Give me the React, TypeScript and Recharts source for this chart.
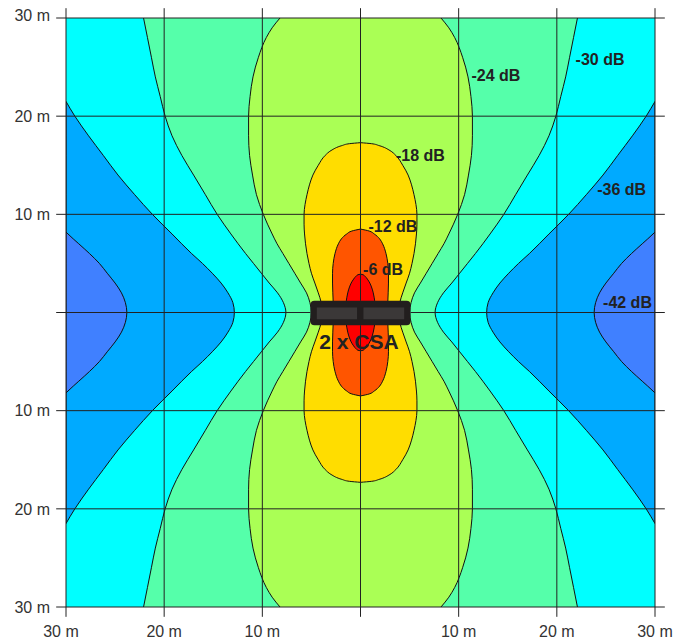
import React from "react";
import { ComposedChart, Area, XAxis, YAxis, ReferenceLine, ReferenceArea, ReferenceDot } from "recharts";

const FONT = "'Liberation Sans', Arial, sans-serif";

const gridTicks = [-30, -20, -10, 0, 10, 20, 30];

// [distance from speaker axis (m), half width of contour (m)] - upper half, lower half is the mirror
const contour30 = [[0, 7.6], [1, 7.85], [2, 8.45], [3, 9.3], [4, 10.1], [5, 10.9], [6, 11.7], [8, 13.2], [10, 14.6], [12, 15.8], [14, 17.0], [16, 18.2], [18, 19.2], [20, 19.9], [22, 20.4], [24, 20.9], [26, 21.3], [28, 21.7], [30, 22.1]];
const contour24 = [[0, 5.0], [1, 5.15], [2, 5.5], [3, 6.1], [4, 6.7], [5, 7.3], [6, 7.9], [7, 8.5], [8, 9.0], [10, 9.9], [12, 10.6], [14, 11.0], [16, 11.3], [18, 11.4], [20, 11.4], [22, 11.25], [24, 10.95], [26, 10.4], [28, 9.6], [29, 9.0], [30, 8.2]];
const contour18 = [[0, 3.9], [1, 4.0], [2, 4.3], [3, 4.65], [4, 5.0], [5, 5.25], [6, 5.45], [7, 5.6], [8, 5.7], [9, 5.75], [10, 5.75], [11, 5.65], [12, 5.45], [13, 5.2], [14, 4.85], [15, 4.3], [16, 3.6], [16.5, 3.0], [17, 1.9], [17.2, 1.1], [17.3, 0]];
const contour12 = [[0, 2.75], [1, 2.78], [2, 2.82], [3, 2.85], [4, 2.85], [5, 2.78], [6, 2.6], [7, 2.25], [7.5, 1.95], [8, 1.4], [8.3, 0.88], [8.5, 0]];
const contour6 = [[0, 1.45], [1, 1.45], [1.5, 1.4], [2, 1.3], [2.6, 1.12], [3, 0.95], [3.4, 0.7], [3.7, 0.45], [3.85, 0.25], [3.9, 0]];
// side lobes: inner edge distance from centre line (m)
const lobe36 = [[0, 12.85], [1, 13.0], [2, 13.5], [3, 14.2], [4, 15.1], [5, 16.1], [6, 17.2], [8, 19.2], [10, 21.2], [12, 23.0], [14, 24.7], [16, 26.2], [18, 27.7], [20, 29.1], [21.5, 30]];
const lobe42 = [[0, 23.8], [1, 23.95], [2, 24.35], [3, 25.0], [4, 25.8], [5, 26.6], [6, 27.6], [7, 28.7], [8, 29.8], [8.2, 30]];
const background = [[30, 30]];

const levelLabels = [
  { text: "-30 dB", x: 24.4, y: 25.8 },
  { text: "-24 dB", x: 13.8, y: 24.2 },
  { text: "-36 dB", x: 26.6, y: 12.5 },
  { text: "-18 dB", x: 6.1, y: 16.0 },
  { text: "-12 dB", x: 3.3, y: 8.8 },
  { text: "-6 dB", x: 2.3, y: 4.4 },
  { text: "-42 dB", x: 27.2, y: 1.0 },
];

// speaker box (m)
const speaker = { x1: -5.1, x2: 5.1, y1: -1.3, y2: 1.2 };

// mirror the upper half and turn half widths into [from, to] ranges
type Side = "both" | "left" | "right";
const toRows = (pts: number[][], side: Side) => {
  const full = [...pts.filter(([y]) => y > 0).map(([y, h]) => [-y, h]).reverse(), ...pts];
  return full.map(([y, h]) => ({
    y,
    v: side === "both" ? [-h, h] : side === "left" ? [-30, -h] : [h, 30],
  }));
};

const series = [
  { key: "bg", rows: toRows(background, "both"), fill: "#00ffff", stroke: "none" },
  { key: "l36L", rows: toRows(lobe36, "left"), fill: "#00aaff", stroke: "#111" },
  { key: "l36R", rows: toRows(lobe36, "right"), fill: "#00aaff", stroke: "#111" },
  { key: "l42L", rows: toRows(lobe42, "left"), fill: "#4080ff", stroke: "#111" },
  { key: "l42R", rows: toRows(lobe42, "right"), fill: "#4080ff", stroke: "#111" },
  { key: "c30", rows: toRows(contour30, "both"), fill: "#55ffaa", stroke: "#111" },
  { key: "c24", rows: toRows(contour24, "both"), fill: "#aaff55", stroke: "#111" },
  { key: "c18", rows: toRows(contour18, "both"), fill: "#ffdd00", stroke: "#111" },
  { key: "c12", rows: toRows(contour12, "both"), fill: "#ff5500", stroke: "#111" },
  { key: "c6", rows: toRows(contour6, "both"), fill: "#ff0000", stroke: "#111" },
];

// grid segments; the centre lines stop at the speaker box
const vSegments = gridTicks.flatMap((v) =>
  v === 0
    ? [[v, -31, v, speaker.y1], [v, speaker.y2, v, 31]]
    : [[v, -31, v, 31]]
);
const hSegments = gridTicks.flatMap((v) =>
  v === 0
    ? [[-31, v, speaker.x1, v], [speaker.x2, v, 31, v]]
    : [[-31, v, 31, v]]
);

const meters = (v: number) => (v === 0 ? "" : `${Math.abs(v)} m`);

const XTick = (props: any) => {
  const { x, y, payload } = props;
  const v = payload.value;
  return (
    <text x={x + (v === -30 ? -5 : 0)} y={y} dy="0.71em" textAnchor="middle" fill="#333" fontSize={16} fontFamily={FONT}>
      {meters(v)}
    </text>
  );
};

const YTick = (props: any) => {
  const { x, y, payload } = props;
  const v = payload.value;
  return (
    <text x={x} y={y + (v === 30 ? -3 : 0)} dy="0.355em" textAnchor="end" fill="#333" fontSize={16} fontFamily={FONT}>
      {meters(v)}
    </text>
  );
};

export default function App() {
  return (
    <div style={{ position: "absolute", left: 0, top: 0 }}>
      <ComposedChart
        width={687}
        height={641}
        layout="vertical"
        margin={{ top: 18, right: 32, bottom: 0, left: 0 }}
      >
        <XAxis
          type="number"
          domain={[-30, 30]}
          ticks={gridTicks}
          interval={0}
          allowDataOverflow
          axisLine={false}
          tickLine={false}
          tickSize={10}
          tickMargin={9}
          height={34}
          tick={XTick}
        />
        <YAxis
          type="number"
          dataKey="y"
          domain={[-30, 30]}
          ticks={gridTicks}
          interval={0}
          allowDataOverflow
          reversed
          axisLine={false}
          tickLine={false}
          tickSize={10}
          tickMargin={6}
          width={66}
          tick={YTick}
        />
        {series.map((s) => (
          <Area
            key={s.key}
            name={s.key}
            data={s.rows}
            dataKey="v"
            type="monotone"
            fill={s.fill}
            fillOpacity={1}
            stroke={s.stroke}
            strokeWidth={1}
            dot={false}
            activeDot={false}
            isAnimationActive={false}
          />
        ))}
        {[...vSegments, ...hSegments].map(([x1, y1, x2, y2], i) => (
          <ReferenceLine
            key={`g${i}`}
            segment={[{ x: x1, y: y1 }, { x: x2, y: y2 }]}
            stroke="#222"
            strokeWidth={1}
            ifOverflow="visible"
          />
        ))}
        <ReferenceArea x1={speaker.x1} x2={speaker.x2} y1={speaker.y1} y2={speaker.y2} fill="#221e1e" fillOpacity={1} stroke="none" radius={4} />
        <ReferenceArea x1={-4.45} x2={-0.35} y1={-0.7} y2={0.5} fill="#3b3838" fillOpacity={1} stroke="none" />
        <ReferenceArea x1={0.3} x2={4.45} y1={-0.7} y2={0.5} fill="#3b3838" fillOpacity={1} stroke="none" />
        {levelLabels.map((l) => (
          <ReferenceDot
            key={l.text}
            x={l.x}
            y={l.y}
            r={1}
            fill="none"
            stroke="none"
            label={{ value: l.text, position: "center", fill: "#222", fontSize: 16, fontWeight: "bold", fontFamily: FONT }}
          />
        ))}
        <ReferenceDot
          x={-0.15}
          y={-2.95}
          r={1}
          fill="none"
          stroke="none"
          label={{ value: "2 x CSA", position: "center", fill: "#222", fontSize: 21, fontWeight: "bold", fontFamily: FONT }}
        />
      </ComposedChart>
    </div>
  );
}
